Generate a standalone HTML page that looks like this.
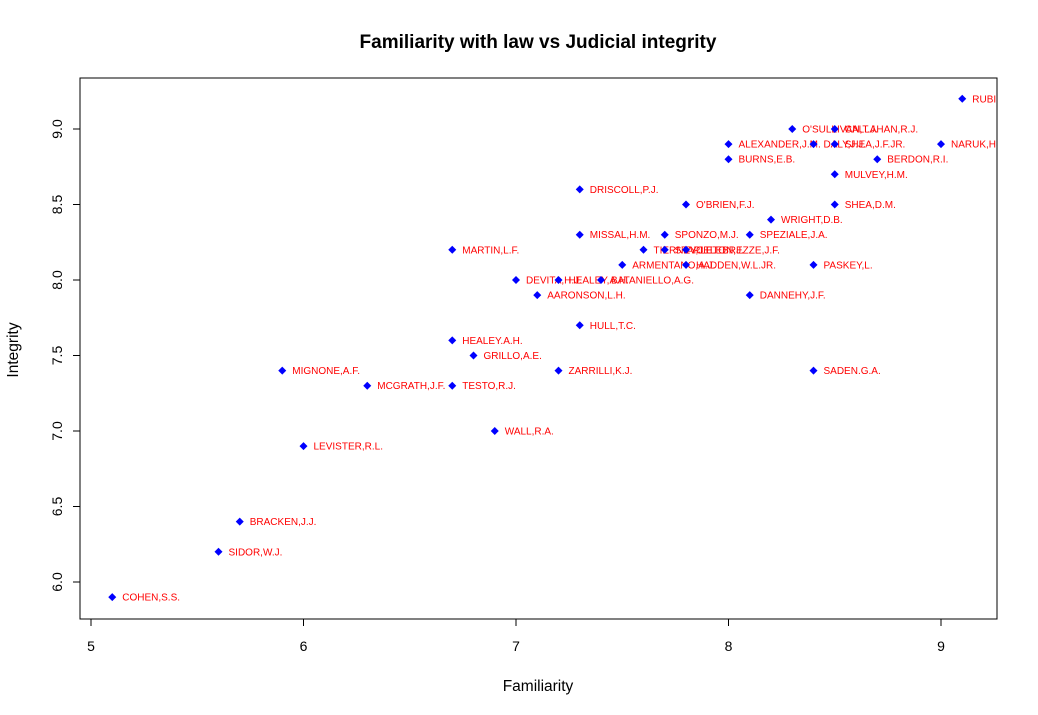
<!DOCTYPE html>
<html><head><style>body{margin:0;background:#fff}svg{display:block}</style></head><body>
<svg width="1038" height="715" xmlns="http://www.w3.org/2000/svg" font-family="Liberation Sans, Arial, sans-serif">
<rect width="1038" height="715" fill="#fff"/>
<text x="538" y="48" text-anchor="middle" font-size="19" font-weight="bold">Familiarity with law vs Judicial integrity</text>
<rect x="80" y="78" width="917" height="541" fill="none" stroke="#000"/>
<g stroke="#000">
<line x1="91" y1="619" x2="941" y2="619"/>
<line x1="91" y1="619" x2="91" y2="626"/><line x1="303.5" y1="619" x2="303.5" y2="626"/><line x1="516" y1="619" x2="516" y2="626"/><line x1="728.5" y1="619" x2="728.5" y2="626"/><line x1="941" y1="619" x2="941" y2="626"/>
<line x1="80" y1="129" x2="80" y2="582"/>
<line x1="73" y1="129" x2="80" y2="129"/><line x1="73" y1="204.5" x2="80" y2="204.5"/><line x1="73" y1="280" x2="80" y2="280"/><line x1="73" y1="355.5" x2="80" y2="355.5"/><line x1="73" y1="431" x2="80" y2="431"/><line x1="73" y1="506.5" x2="80" y2="506.5"/><line x1="73" y1="582" x2="80" y2="582"/>
</g>
<g font-size="14" text-anchor="middle">
<text x="91" y="651">5</text><text x="303.5" y="651">6</text><text x="516" y="651">7</text><text x="728.5" y="651">8</text><text x="941" y="651">9</text>
<text transform="translate(62,129) rotate(-90)">9.0</text>
<text transform="translate(62,204.5) rotate(-90)">8.5</text>
<text transform="translate(62,280) rotate(-90)">8.0</text>
<text transform="translate(62,355.5) rotate(-90)">7.5</text>
<text transform="translate(62,431) rotate(-90)">7.0</text>
<text transform="translate(62,506.5) rotate(-90)">6.5</text>
<text transform="translate(62,582) rotate(-90)">6.0</text>
<text x="538" y="691" font-size="15.5">Familiarity</text>
<text transform="translate(18,350) rotate(-90)" font-size="15.5">Integrity</text>
</g>
<svg x="80" y="78" width="917" height="541" overflow="hidden">
<g transform="translate(-80,-78)" font-size="10" fill="#f00">
<g transform="translate(112.25,597.1)"><path d="M0-4L4 0 0 4-4 0z" fill="#00f"/><text x="10" y="3.5">COHEN,S.S.</text></g>
<g transform="translate(218.5,551.8)"><path d="M0-4L4 0 0 4-4 0z" fill="#00f"/><text x="10" y="3.5">SIDOR,W.J.</text></g>
<g transform="translate(239.75,521.6)"><path d="M0-4L4 0 0 4-4 0z" fill="#00f"/><text x="10" y="3.5">BRACKEN,J.J.</text></g>
<g transform="translate(282.25,370.6)"><path d="M0-4L4 0 0 4-4 0z" fill="#00f"/><text x="10" y="3.5">MIGNONE,A.F.</text></g>
<g transform="translate(303.5,446.1)"><path d="M0-4L4 0 0 4-4 0z" fill="#00f"/><text x="10" y="3.5">LEVISTER,R.L.</text></g>
<g transform="translate(367.25,385.7)"><path d="M0-4L4 0 0 4-4 0z" fill="#00f"/><text x="10" y="3.5">MCGRATH,J.F.</text></g>
<g transform="translate(452.25,385.7)"><path d="M0-4L4 0 0 4-4 0z" fill="#00f"/><text x="10" y="3.5">TESTO,R.J.</text></g>
<g transform="translate(452.25,340.4)"><path d="M0-4L4 0 0 4-4 0z" fill="#00f"/><text x="10" y="3.5">HEALEY.A.H.</text></g>
<g transform="translate(452.25,249.8)"><path d="M0-4L4 0 0 4-4 0z" fill="#00f"/><text x="10" y="3.5">MARTIN,L.F.</text></g>
<g transform="translate(473.5,355.5)"><path d="M0-4L4 0 0 4-4 0z" fill="#00f"/><text x="10" y="3.5">GRILLO,A.E.</text></g>
<g transform="translate(494.75,431)"><path d="M0-4L4 0 0 4-4 0z" fill="#00f"/><text x="10" y="3.5">WALL,R.A.</text></g>
<g transform="translate(516,280)"><path d="M0-4L4 0 0 4-4 0z" fill="#00f"/><text x="10" y="3.5">DEVITA,H.J.</text></g>
<g transform="translate(537.25,295.1)"><path d="M0-4L4 0 0 4-4 0z" fill="#00f"/><text x="10" y="3.5">AARONSON,L.H.</text></g>
<g transform="translate(558.5,280)"><path d="M0-4L4 0 0 4-4 0z" fill="#00f"/><text x="10" y="3.5">HEALEY,A.H.</text></g>
<g transform="translate(558.5,370.6)"><path d="M0-4L4 0 0 4-4 0z" fill="#00f"/><text x="10" y="3.5">ZARRILLI,K.J.</text></g>
<g transform="translate(579.75,189.4)"><path d="M0-4L4 0 0 4-4 0z" fill="#00f"/><text x="10" y="3.5">DRISCOLL,P.J.</text></g>
<g transform="translate(579.75,234.7)"><path d="M0-4L4 0 0 4-4 0z" fill="#00f"/><text x="10" y="3.5">MISSAL,H.M.</text></g>
<g transform="translate(579.75,325.3)"><path d="M0-4L4 0 0 4-4 0z" fill="#00f"/><text x="10" y="3.5">HULL,T.C.</text></g>
<g transform="translate(601,280)"><path d="M0-4L4 0 0 4-4 0z" fill="#00f"/><text x="10" y="3.5">BATANIELLO,A.G.</text></g>
<g transform="translate(622.25,264.9)"><path d="M0-4L4 0 0 4-4 0z" fill="#00f"/><text x="10" y="3.5">ARMENTANO,A.J.</text></g>
<g transform="translate(643.5,249.8)"><path d="M0-4L4 0 0 4-4 0z" fill="#00f"/><text x="10" y="3.5">TIERNEY,J.E.</text></g>
<g transform="translate(664.75,234.7)"><path d="M0-4L4 0 0 4-4 0z" fill="#00f"/><text x="10" y="3.5">SPONZO,M.J.</text></g>
<g transform="translate(664.75,249.8)"><path d="M0-4L4 0 0 4-4 0z" fill="#00f"/><text x="10" y="3.5">STAPLETON,J.</text></g>
<g transform="translate(686,204.5)"><path d="M0-4L4 0 0 4-4 0z" fill="#00f"/><text x="10" y="3.5">O'BRIEN,F.J.</text></g>
<g transform="translate(686,264.9)"><path d="M0-4L4 0 0 4-4 0z" fill="#00f"/><text x="10" y="3.5">HADDEN,W.L.JR.</text></g>
<g transform="translate(686,249.8)"><path d="M0-4L4 0 0 4-4 0z" fill="#00f"/><text x="10" y="3.5">CELEBREZZE,J.F.</text></g>
<g transform="translate(728.5,144.1)"><path d="M0-4L4 0 0 4-4 0z" fill="#00f"/><text x="10" y="3.5">ALEXANDER,J.M.</text></g>
<g transform="translate(728.5,159.2)"><path d="M0-4L4 0 0 4-4 0z" fill="#00f"/><text x="10" y="3.5">BURNS,E.B.</text></g>
<g transform="translate(749.75,234.7)"><path d="M0-4L4 0 0 4-4 0z" fill="#00f"/><text x="10" y="3.5">SPEZIALE,J.A.</text></g>
<g transform="translate(749.75,295.1)"><path d="M0-4L4 0 0 4-4 0z" fill="#00f"/><text x="10" y="3.5">DANNEHY,J.F.</text></g>
<g transform="translate(771,219.6)"><path d="M0-4L4 0 0 4-4 0z" fill="#00f"/><text x="10" y="3.5">WRIGHT,D.B.</text></g>
<g transform="translate(792.25,129)"><path d="M0-4L4 0 0 4-4 0z" fill="#00f"/><text x="10" y="3.5">O'SULLIVAN,T.J.</text></g>
<g transform="translate(813.5,144.1)"><path d="M0-4L4 0 0 4-4 0z" fill="#00f"/><text x="10" y="3.5">DALY,J.J.</text></g>
<g transform="translate(813.5,264.9)"><path d="M0-4L4 0 0 4-4 0z" fill="#00f"/><text x="10" y="3.5">PASKEY,L.</text></g>
<g transform="translate(813.5,370.6)"><path d="M0-4L4 0 0 4-4 0z" fill="#00f"/><text x="10" y="3.5">SADEN.G.A.</text></g>
<g transform="translate(834.75,129)"><path d="M0-4L4 0 0 4-4 0z" fill="#00f"/><text x="10" y="3.5">CALLAHAN,R.J.</text></g>
<g transform="translate(834.75,144.1)"><path d="M0-4L4 0 0 4-4 0z" fill="#00f"/><text x="10" y="3.5">SHEA,J.F.JR.</text></g>
<g transform="translate(834.75,174.3)"><path d="M0-4L4 0 0 4-4 0z" fill="#00f"/><text x="10" y="3.5">MULVEY,H.M.</text></g>
<g transform="translate(834.75,204.5)"><path d="M0-4L4 0 0 4-4 0z" fill="#00f"/><text x="10" y="3.5">SHEA,D.M.</text></g>
<g transform="translate(877.25,159.2)"><path d="M0-4L4 0 0 4-4 0z" fill="#00f"/><text x="10" y="3.5">BERDON,R.I.</text></g>
<g transform="translate(941,144.1)"><path d="M0-4L4 0 0 4-4 0z" fill="#00f"/><text x="10" y="3.5">NARUK,H.M.</text></g>
<g transform="translate(962.25,98.8)"><path d="M0-4L4 0 0 4-4 0z" fill="#00f"/><text x="10" y="3.5">RUBIN,J.C.</text></g>
</g>
</svg>
</svg>
</body></html>
